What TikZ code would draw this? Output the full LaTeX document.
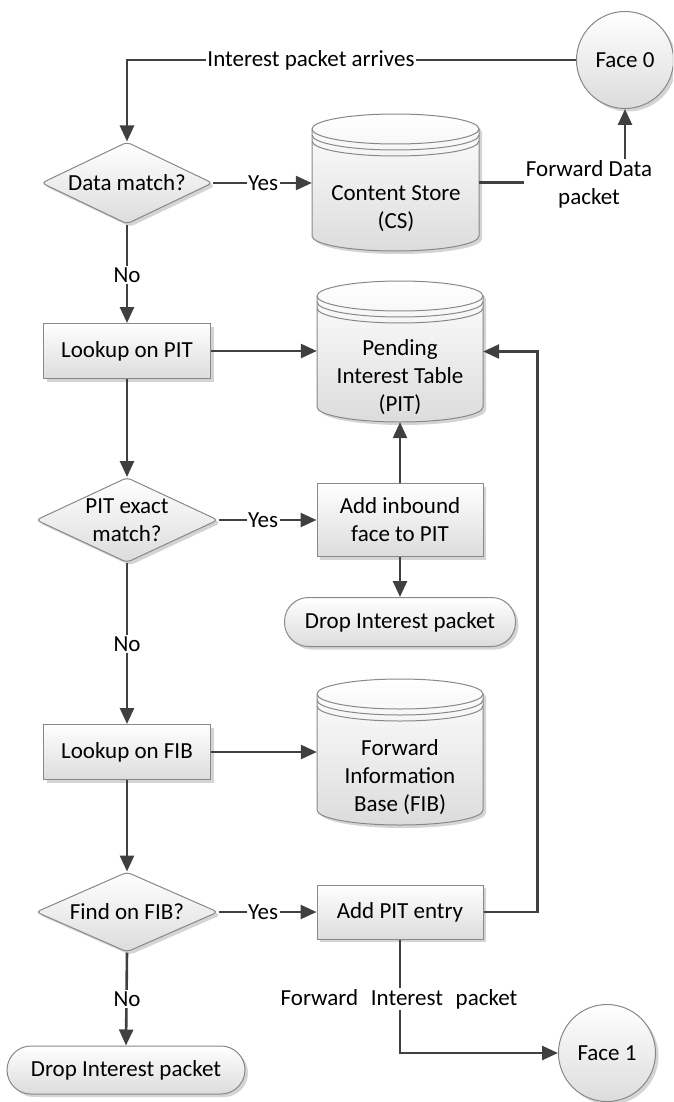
\documentclass[tikz,border=0pt]{standalone}
\usepackage{fontspec}
\setmainfont{Carlito}
\usetikzlibrary{shapes.geometric,arrows.meta,shadows}
\definecolor{linec}{HTML}{404040}
\definecolor{edgec}{HTML}{888888}
\definecolor{fillc}{HTML}{DCDCDC}
\definecolor{shadc}{HTML}{D4D4D4}
\newcommand\fsz{\fontsize{23}{28}\selectfont}
\tikzset{
  conn/.style={draw=linec, line width=2.6pt},
  arr/.style={conn, -{Triangle[length=16pt,width=14pt]}},
  shd/.style={drop shadow={shadow xshift=3pt, shadow yshift=-3pt, fill=shadc, opacity=1}},
  flowshape/.style={draw=edgec, line width=1pt, top color=white, bottom color=fillc, shd, inner sep=0pt},
  procbox/.style={flowshape, rectangle, align=center},
  terminal/.style={flowshape, rectangle, rounded corners=24pt, align=center},
  decision/.style={flowshape, diamond, rounded corners=4pt},
  facecirc/.style={flowshape, circle, minimum size=97pt},
  cylbody/.style={draw=edgec, line width=1pt, top color=white, bottom color=fillc},
  cyledge/.style={draw=edgec, line width=1pt},
  txt/.style={align=center, inner sep=0pt},
  lab/.style={fill=white, inner sep=1.5pt, align=center},
}
\newcommand\dbcyl[6]{%
  \pgfmathsetmacro\cyrx{(#4-#2)/2}%
  \pgfmathsetmacro\cyya{#3+#6}%
  \pgfmathsetmacro\cyyb{#5-#6}%
  \fill[shadc] (#2+3,\cyya+3) -- (#2+3,\cyyb+3) arc[start angle=180,end angle=0,x radius=\cyrx,y radius=#6] -- (#4+3,\cyya+3) arc[start angle=0,end angle=-180,x radius=\cyrx,y radius=#6] -- cycle;
  \path[cylbody] (#2,\cyya) -- (#2,\cyyb) arc[start angle=180,end angle=0,x radius=\cyrx,y radius=#6] -- (#4,\cyya) arc[start angle=0,end angle=-180,x radius=\cyrx,y radius=#6] -- cycle;
  \draw[cyledge] (#2,\cyya) arc[start angle=180,end angle=0,x radius=\cyrx,y radius=#6];
  \draw[cyledge] (#2,\cyya+6) arc[start angle=180,end angle=0,x radius=\cyrx,y radius=#6];
  \draw[cyledge] (#2,\cyya+12) arc[start angle=180,end angle=0,x radius=\cyrx,y radius=#6];
  \node[inner sep=0pt, minimum width={#4-#2}, minimum height={#5-#3}] (#1) at ({(#2+#4)/2},{(#3+#5)/2}) {};
}
\begin{document}
\begin{tikzpicture}[x=1pt,y=-1pt, every node/.append style={font=\fsz}]
\clip (0,0) rectangle (673,1102);
\useasboundingbox (0,0) rectangle (673,1102);

% cylinders
\dbcyl{cs}{312}{114}{479}{251}{15}
\dbcyl{pit}{317}{281}{483}{422}{15}
\dbcyl{fib}{317}{679}{483}{825}{15}
\node[txt] (cst) at (396,209) {Content Store\\(CS)};
\node[txt] (pitt) at (400,377) {Pending\\Interest Table\\(PIT)};
\node[txt] (fibt) at (400,777) {Forward\\Information\\Base (FIB)};

% faces
\node[facecirc] (face0) at (625,60) {Face 0};
\node[facecirc] (face1) at (607,1053) {Face 1};

% decisions
\node[decision, minimum width=171pt, minimum height=82pt] (dm) at (127,183) {};
\node[txt] (dmt) at (dm.center) {Data match?};
\node[decision, minimum width=182pt, minimum height=85pt] (pem) at (127,520) {};
\node[txt] (pemt) at (pem.center) {PIT exact\\match?};
\node[decision, minimum width=182pt, minimum height=80pt] (ffib) at (127,912) {};
\node[txt] (ffibt) at (ffib.center) {Find on FIB?};

% process boxes
\node[procbox, minimum width=167pt, minimum height=55pt] (lpit) at (127,351) {Lookup on PIT};
\node[procbox, minimum width=166pt, minimum height=73pt] (addin) at (400,520) {Add inbound\\face to PIT};
\node[procbox, minimum width=167pt, minimum height=55pt] (lfib) at (127,752) {Lookup on FIB};
\node[procbox, minimum width=166pt, minimum height=54pt] (addpit) at (400,912) {Add PIT entry};

% terminals
\node[terminal, minimum width=231pt, minimum height=49pt] (drop1) at (400,622) {Drop Interest packet};
\node[terminal, minimum width=238pt, minimum height=48pt] (drop2) at (126,1070) {Drop Interest packet};

% connectors
\draw[arr] (face0.west) -| (dm.north);
\draw[arr] (dm.east) -- (dm.east -| cs.west);
\draw[arr] (cs.east) -| (face0.south);
\draw[arr] (dm.south) -- (lpit.north);
\draw[arr] (lpit.east) -- (lpit.east -| pit.west);
\draw[arr] (lpit.south) -- (pem.north);
\draw[arr] (pem.east) -- (addin.west);
\draw[arr] (addin.north) -- (addin.north |- pit.south);
\draw[arr] (addin.south) -- (drop1.north);
\draw[arr] (pem.south) -- (lfib.north);
\draw[arr] (lfib.east) -- (lfib.east -| fib.west);
\draw[arr] (lfib.south) -- (ffib.north);
\draw[arr] (ffib.east) -- (addpit.west);
\draw[arr] (addpit.east) -- ++(54,0) |- (pit.east);
\draw[arr] (addpit.south) |- (face1.west);
\draw[arr] (ffib.south) -- (drop2.north);

% labels on connectors
\node[lab] (l1) at (311,60) {Interest packet arrives};
\node[lab] (l2) at (263,183) {Yes};
\node[lab] (l3) at (589,184) {Forward Data\\packet};
\node[lab] (l4) at (127,275) {No};
\node[lab] (l5) at (263,520) {Yes};
\node[lab] (l6) at (127,644) {No};
\node[lab] (l7) at (263,912) {Yes};
\node[lab] (l8) at (127,999) {No};
\node[lab] (l9) at (399,999) {Forward\hspace{0.55em}Interest\hspace{0.55em}packet};
\end{tikzpicture}
\end{document}
